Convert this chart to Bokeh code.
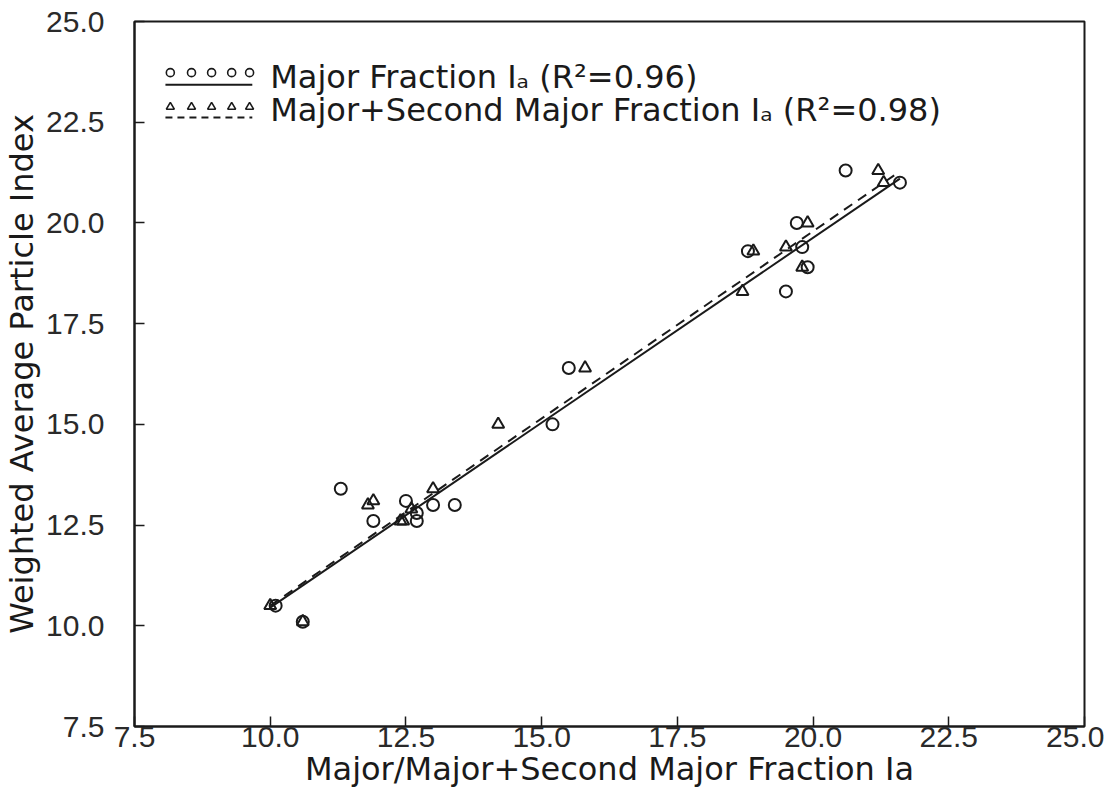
from bokeh.plotting import figure
from bokeh.models import Range1d, Label, FixedTicker, PrintfTickFormatter, ColumnDataSource
from bokeh.embed import file_html
from bokeh.resources import INLINE

# ---- data ----
major_x = [10.1, 10.6, 11.3, 11.9, 12.5, 12.7, 12.7, 13.0, 13.4, 15.2, 15.5, 18.8, 19.5, 19.7, 19.8, 19.9, 20.6, 21.6]
major_y = [10.5, 10.1, 13.4, 12.6, 13.1, 12.8, 12.6, 13.0, 13.0, 15.0, 16.4, 19.3, 18.3, 20.0, 19.4, 18.9, 21.3, 21.0]
second_x = [10.0, 10.6, 11.8, 11.9, 12.4, 12.45, 12.6, 13.0, 14.2, 15.8, 18.7, 18.9, 19.5, 19.8, 19.9, 21.2, 21.3]
second_y = [10.5, 10.1, 13.0, 13.1, 12.6, 12.6, 12.9, 13.4, 15.0, 16.4, 18.3, 19.3, 19.4, 18.9, 20.0, 21.3, 21.0]
fit_x = [10.0, 21.6]
fit_major = [10.45, 21.1]
fit_second = [10.5, 21.28]
ticks = [7.5, 10.0, 12.5, 15.0, 17.5, 20.0, 22.5, 25.0]

label_major = "Major Fraction I\u2090 (R\u00b2=0.96)"
label_second = "Major+Second Major Fraction I\u2090 (R\u00b2=0.98)"
x_title = "Major/Major+Second Major Fraction Ia"
y_title = "Weighted Average Particle Index"

# ---- figure ----
INK = "#1a1a1a"
TICK_FONT = "Liberation Sans"
TEXT_FONT = "DejaVu Sans"

p = figure(frame_width=950, frame_height=705, output_backend="svg", toolbar_location=None,
           x_range=Range1d(7.5, 25.0), y_range=Range1d(7.5, 25.0),
           min_border_left=127, min_border_right=20, min_border_top=21, min_border_bottom=10)
p.background_fill_color = "white"
p.border_fill_color = "white"
p.outline_line_color = INK
p.outline_line_width = 2
p.xgrid.visible = False
p.ygrid.visible = False

for ax in (p.xaxis[0], p.yaxis[0]):
    ax.ticker = FixedTicker(ticks=ticks)
    ax.formatter = PrintfTickFormatter(format="%.1f")
    ax.major_tick_in = 10
    ax.major_tick_out = 0
    ax.minor_tick_in = 0
    ax.minor_tick_out = 0
    ax.axis_line_color = INK
    ax.axis_line_width = 2
    ax.major_tick_line_color = INK
    ax.major_tick_line_width = 1.5
    ax.major_label_text_font = TICK_FONT
    ax.major_label_text_font_size = "30px"
    ax.major_label_text_color = "#2a2a2a"
    ax.axis_label_text_font = TEXT_FONT
    ax.axis_label_text_font_size = "32px"
    ax.axis_label_text_font_style = "normal"
    ax.axis_label_text_color = INK

p.xaxis[0].major_label_standoff = 0
p.xaxis[0].axis_label_standoff = 0
p.yaxis[0].major_label_standoff = 30
p.yaxis[0].axis_label_standoff = 2
p.xaxis[0].axis_label = x_title
p.yaxis[0].axis_label = y_title

# ---- data marks ----
src_major = ColumnDataSource(dict(x=major_x, y=major_y))
src_second = ColumnDataSource(dict(x=second_x, y=second_y))
p.line(fit_x, fit_major, line_color=INK, line_width=2)
p.line(fit_x, fit_second, line_color=INK, line_width=2, line_dash="10 7")
p.scatter("x", "y", source=src_major, marker="circle", size=12, fill_color=None,
          line_color=INK, line_width=2)
p.scatter("x", "y", source=src_second, marker="triangle", size=12, fill_color=None,
          line_color=INK, line_width=2)

# ---- legend (decoration, placed in the upper-left corner) ----
leg_mx = [8.16, 8.55, 8.92, 9.29, 9.62]
leg_line_x = [8.07, 9.67]
p.scatter(leg_mx, [23.73] * 5, marker="circle", size=8, fill_color=None, line_color=INK, line_width=1.6)
p.line(leg_line_x, [23.43, 23.43], line_color=INK, line_width=2)
p.scatter(leg_mx, [22.88] * 5, marker="triangle", size=8, fill_color=None, line_color=INK, line_width=1.6)
p.line(leg_line_x, [22.62, 22.62], line_color=INK, line_width=2, line_dash="7 5")
p.add_layout(Label(x=10.0, y=23.63, text=label_major, text_font=TEXT_FONT, text_font_size="32px",
                   text_baseline="middle", text_color=INK))
p.add_layout(Label(x=10.0, y=22.81, text=label_second, text_font=TEXT_FONT, text_font_size="32px",
                   text_baseline="middle", text_color=INK))

open("out.html", "w").write(file_html(p, INLINE))
